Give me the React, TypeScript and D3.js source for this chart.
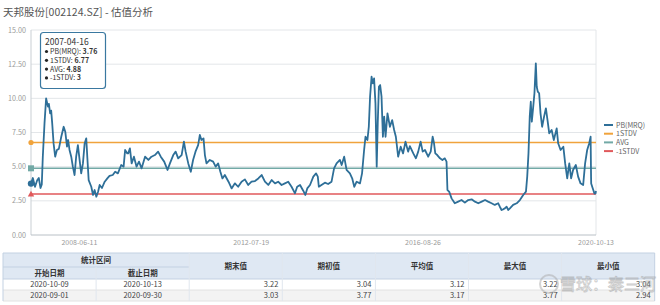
import React from "react";
import * as d3 from "d3";

const TITLE = "天邦股份[002124.SZ] - 估值分析";

const pbDates = [
  "2007-04-16","2007-05-02","2007-05-21","2007-06-09","2007-06-23","2007-07-08","2007-07-19","2007-07-28",
  "2007-08-12","2007-08-26","2007-09-11","2007-09-19","2007-09-30","2007-10-09","2007-10-18","2007-10-30",
  "2007-11-13","2007-11-28","2007-12-15","2008-01-05","2008-01-26","2008-02-09","2008-02-24","2008-03-05",
  "2008-03-17","2008-04-01","2008-04-15","2008-04-30","2008-05-14","2008-05-29","2008-06-13","2008-06-27",
  "2008-07-12","2008-07-27","2008-08-10","2008-08-19","2008-08-31","2008-09-23","2008-10-08","2008-10-22",
  "2008-11-06","2008-11-21","2008-12-05","2008-12-25","2009-01-18","2009-02-10","2009-03-01","2009-03-29",
  "2009-04-19","2009-05-13","2009-06-11","2009-07-02","2009-07-15","2009-08-03","2009-08-11","2009-08-26",
  "2009-09-10","2009-09-30","2009-10-23","2009-11-13","2009-12-06","2010-01-05","2010-02-03","2010-03-02",
  "2010-04-01","2010-04-29","2010-05-22","2010-06-21","2010-07-20","2010-08-10","2010-09-08","2010-09-29",
  "2010-10-21","2010-11-20","2010-12-10","2010-12-25","2011-01-17","2011-02-08","2011-02-28","2011-03-21",
  "2011-04-13","2011-04-28","2011-05-12","2011-05-30","2011-06-11","2011-06-25","2011-07-24","2011-08-22",
  "2011-09-13","2011-10-05","2011-10-24","2011-11-11","2011-12-02","2012-01-03","2012-01-30","2012-02-28",
  "2012-03-27","2012-04-26","2012-05-25","2012-06-23","2012-07-22","2012-08-21","2012-09-19","2012-10-18",
  "2012-11-16","2012-12-15","2013-01-14","2013-02-12","2013-03-11","2013-04-10","2013-05-09","2013-06-07",
  "2013-07-06","2013-08-05","2013-08-24","2013-09-18","2013-10-16","2013-11-03","2013-11-20","2013-12-14",
  "2014-01-12","2014-02-05","2014-02-20","2014-03-01","2014-03-24","2014-04-23","2014-05-21","2014-06-20",
  "2014-07-12","2014-08-03","2014-09-01","2014-09-16","2014-10-08","2014-10-29","2014-11-27","2014-12-17",
  "2015-01-04","2015-01-25","2015-02-23","2015-03-13","2015-03-31","2015-04-12","2015-04-29","2015-05-11",
  "2015-05-22","2015-06-04","2015-06-15","2015-06-26","2015-07-08","2015-07-19","2015-07-28","2015-08-07",
  "2015-08-18","2015-08-30","2015-09-11","2015-09-22","2015-10-04","2015-10-21","2015-11-11","2015-12-01",
  "2015-12-18","2016-01-02","2016-01-22","2016-02-13","2016-03-05","2016-03-26","2016-04-18","2016-05-03",
  "2016-06-02","2016-06-25","2016-07-15","2016-08-05","2016-08-23","2016-09-12","2016-10-10","2016-11-01",
  "2016-11-18","2016-11-30","2016-12-11","2016-12-28","2017-01-21","2017-02-11","2017-03-04","2017-03-19",
  "2017-03-27","2017-04-11","2017-05-02","2017-05-30","2017-06-29","2017-07-28","2017-08-26","2017-09-24",
  "2017-10-24","2017-11-22","2017-12-21","2018-01-20","2018-02-18","2018-03-17","2018-04-16","2018-05-14",
  "2018-06-13","2018-06-27","2018-07-12","2018-07-26","2018-08-10","2018-08-25","2018-09-09","2018-09-23",
  "2018-10-21","2018-11-21","2018-12-19","2019-01-17","2019-02-10","2019-02-21","2019-03-04","2019-03-15",
  "2019-03-24","2019-04-02","2019-04-13","2019-04-25","2019-05-07","2019-05-15","2019-05-24","2019-06-05",
  "2019-06-17","2019-07-01","2019-07-18","2019-08-03","2019-08-17","2019-09-01","2019-09-22","2019-10-11",
  "2019-11-05","2019-11-18","2019-12-09","2020-01-02","2020-01-18","2020-02-05","2020-02-23","2020-03-10",
  "2020-03-27","2020-04-20","2020-05-10","2020-05-31","2020-06-23","2020-07-10","2020-07-28","2020-08-15",
  "2020-08-27","2020-08-31","2020-09-01","2020-09-15","2020-09-30","2020-10-09","2020-10-13"
];

const pbValues = [
  3.76,4.17,3.53,4.0,4.17,3.44,3.7,5.73,
  8.2,10.0,9.39,9.6,8.9,9.1,8.17,6.7,
  5.73,6.22,6.3,7.19,7.92,7.56,6.46,6.95,
  6.22,5.73,5.0,4.39,5.73,6.58,5.49,4.51,
  5.24,6.7,7.07,5.73,4.02,3.53,2.93,3.29,
  2.8,3.16,3.66,3.44,3.9,4.14,4.32,4.39,
  4.63,4.51,5.12,5.0,6.22,5.97,5.97,6.34,
  5.24,5.73,5.0,5.37,4.88,5.73,5.49,5.73,
  5.85,6.1,5.73,5.37,4.76,5.24,5.85,6.1,
  5.61,5.85,6.83,6.1,5.24,4.63,5.49,6.1,
  6.58,7.32,6.95,7.07,5.85,5.24,5.49,5.37,
  5.0,5.24,4.63,4.14,4.39,3.9,3.41,3.78,
  3.53,3.9,4.07,3.66,3.9,3.95,4.14,4.39,
  3.9,3.66,4.02,3.78,3.9,3.66,3.78,3.9,
  3.53,3.05,3.53,3.66,3.24,2.93,3.41,3.66,
  4.27,4.51,4.27,3.53,3.66,3.83,3.73,3.9,
  4.88,5.24,5.49,5.12,5.73,4.76,4.51,4.15,
  3.53,3.9,3.78,4.51,6.22,7.19,6.95,7.92,
  10.12,11.58,11.1,11.46,9.63,5.0,8.17,10.85,
  10.97,10.12,7.19,8.66,7.19,8.9,7.92,8.41,
  7.68,7.19,5.73,6.46,5.97,6.83,6.1,6.5,
  5.97,5.61,6.1,6.83,6.1,6.22,5.73,6.1,
  7.19,6.71,5.97,5.85,5.61,5.49,5.61,5.37,
  3.29,3.17,2.68,2.32,2.44,2.56,2.37,2.56,
  2.61,2.44,2.32,2.44,2.56,2.44,2.32,2.2,
  2.32,2.07,1.83,1.88,1.95,2.07,1.83,1.95,
  2.2,2.32,2.56,2.93,3.17,4.27,5.97,8.66,
  9.75,8.29,9.27,10.37,12.56,10.85,10.49,10.37,
  8.9,7.92,8.66,9.27,8.41,7.44,7.68,6.95,
  7.8,6.71,6.22,6.46,5.24,4.14,5.24,4.14,
  4.76,5.12,4.27,3.78,3.66,5.24,6.22,6.71,
  7.19,4.2,3.77,3.4,3.03,3.04,3.22
];

const STDV_PLUS = 6.77;
const AVG = 4.88;
const STDV_MINUS = 3;

const yTicks = [0, 2.5, 5, 7.5, 10, 12.5, 15];
const xTickDates = ["2008-06-11", "2012-07-19", "2016-08-26", "2020-10-13"];

const legendNames = ["PB(MRQ)", "1STDV", "AVG", "-1STDV"];
const legendColors = ["#2e6f98", "#f0a33c", "#72a9a6", "#e0595b"];

const tooltipDate = "2007-04-16";
const tooltipLabels = ["PB(MRQ): ", "1STDV: ", "AVG: ", "-1STDV: "];
const tooltipValues = ["3.76", "6.77", "4.88", "3"];

const colHeaders = ["期末值", "期初值", "平均值", "最大值", "最小值"];
const rangeHeader = "统计区间";
const subHeaders = ["开始日期", "截止日期"];
const tStart = ["2020-10-09", "2020-09-01"];
const tEnd = ["2020-10-13", "2020-09-30"];
const tEndVal = ["3.22", "3.03"];
const tStartVal = ["3.04", "3.77"];
const tAvg = ["3.12", "3.17"];
const tMax = ["3.22", "3.77"];
const tMin = ["3.04", "2.94"];

const FONT = "'Noto Sans CJK SC', 'Noto Sans', sans-serif";

export default function App() {
  const parse = d3.timeParse("%Y-%m-%d");
  const data = pbDates.map((d, i) => ({ date: parse(d) as Date, v: pbValues[i] }));
  const left = 31, right = 596, top = 30, bottom = 235;
  const x = d3.scaleTime().domain([parse("2007-04-16") as Date, parse("2020-10-13") as Date]).range([left, right]);
  const y = d3.scaleLinear().domain([0, 15]).range([bottom, top]);
  const line = d3.line<{ date: Date; v: number }>().x(d => x(d.date)).y(d => y(d.v));

  const x0 = x.range()[0];
  const triSize = 3.2;

  const cols = d3.range(8).map(i => 3 + i * 93.1);
  const tTop = 253, h1 = 267, h2 = 279, r1 = 290, r2 = 301;
  const rowsY = [[h2, r1], [r1, r2]];
  const tableRows = [0, 1].map(i => [tStart[i], tEnd[i], tEndVal[i], tStartVal[i], tAvg[i], tMax[i], tMin[i]]);

  return (
    <svg width={660} height={305} style={{ position: "absolute", left: 0, top: 0, background: "#fff" }} fontFamily={FONT}>
      <rect x={0} y={0} width={660} height={305} fill="#fff" />
      <text x={3} y={16} fontSize={10.5} fill="#555">{TITLE}</text>

      {yTicks.map(t => (
        <g key={t}>
          {t > 0 && <line x1={left} x2={right} y1={y(t)} y2={y(t)} stroke="#e3e6e9" strokeWidth={1} />}
          <text x={26} y={y(t) + 2.5} fontSize={7.2} fill="#9a9a9a" textAnchor="end">{t.toFixed(2)}</text>
        </g>
      ))}
      <line x1={right} x2={right} y1={top} y2={bottom} stroke="#e3e6e9" />
      <line x1={left} x2={left} y1={top} y2={bottom} stroke="#c9cfd4" />
      <line x1={left} x2={right} y1={bottom} y2={bottom} stroke="#b9c0c6" />
      {xTickDates.map(d => (
        <text key={d} x={x(parse(d) as Date)} y={245} fontSize={7} fill="#9a9a9a" textAnchor="middle">{d}</text>
      ))}

      <line x1={left} x2={right} y1={y(STDV_PLUS)} y2={y(STDV_PLUS)} stroke={legendColors[1]} strokeWidth={1.6} />
      <line x1={left} x2={right} y1={y(AVG)} y2={y(AVG)} stroke={legendColors[2]} strokeWidth={1.6} />
      <line x1={left} x2={right} y1={y(STDV_MINUS)} y2={y(STDV_MINUS)} stroke={legendColors[3]} strokeWidth={1.6} />

      <path d={line(data) || ""} fill="none" stroke={legendColors[0]} strokeWidth={1.8} strokeLinejoin="round" />

      <circle cx={x0} cy={y(STDV_PLUS)} r={2.6} fill={legendColors[1]} />
      <rect x={x0 - 3} y={y(AVG) - 3} width={6} height={6} fill={legendColors[2]} />
      <path d={`M${x0},${y(STDV_MINUS) - triSize} L${x0 + triSize},${y(STDV_MINUS) + triSize * 0.8} L${x0 - triSize},${y(STDV_MINUS) + triSize * 0.8} Z`} fill={legendColors[3]} />
      <circle cx={x0} cy={y(pbValues[0])} r={3.2} fill={legendColors[0]} />

      <g>
        <rect x={40.5} y={32.5} width={65} height={56} rx={3} fill="#fff" fillOpacity={0.95} stroke="#3a78a0" strokeWidth={1.2} />
        <text x={45} y={45} fontSize={8.5} fill="#333">{tooltipDate}</text>
        {tooltipLabels.map((l, i) => (
          <g key={l}>
            <circle cx={46.5} cy={51.5 + i * 8.8} r={1.6} fill="#222" />
            <text x={50} y={54 + i * 8.8} fontSize={7} fill="#333">
              {l}<tspan fontWeight="bold">{tooltipValues[i]}</tspan>
            </text>
          </g>
        ))}
      </g>

      {legendNames.map((n, i) => (
        <g key={n}>
          <line x1={604} x2={613} y1={125 + i * 8.7} y2={125 + i * 8.7} stroke={legendColors[i]} strokeWidth={2} />
          <text x={616} y={127.5 + i * 8.7} fontSize={7} fill="#666">{n}</text>
        </g>
      ))}

      <g fontSize={7.5}>
        <rect x={cols[0]} y={tTop} width={cols[7] - cols[0]} height={h2 - tTop} fill="#dfe8f3" />
        <rect x={cols[0]} y={r1} width={cols[7] - cols[0]} height={r2 - r1} fill="#f3f3f3" />
        <line x1={cols[0]} x2={cols[7]} y1={tTop} y2={tTop} stroke="#c3d1e2" />
        <line x1={cols[0]} x2={cols[2]} y1={h1} y2={h1} stroke="#c3d1e2" />
        <line x1={cols[0]} x2={cols[7]} y1={h2} y2={h2} stroke="#c3d1e2" />
        <line x1={cols[0]} x2={cols[7]} y1={r1} y2={r1} stroke="#e2e2e2" />
        <line x1={cols[0]} x2={cols[7]} y1={r2} y2={r2} stroke="#e2e2e2" />
        {cols.map((c, i) => (
          <line key={i} x1={c} x2={c} y1={i === 1 ? h1 : tTop} y2={r2} stroke={i === 0 || i === 7 ? "#c3d1e2" : "#e0e6ee"} />
        ))}
        <text x={(cols[0] + cols[2]) / 2} y={263} textAnchor="middle" fill="#333" fontWeight="bold">{rangeHeader}</text>
        {subHeaders.map((s, i) => (
          <text key={s} x={(cols[i] + cols[i + 1]) / 2} y={276} textAnchor="middle" fill="#333" fontWeight="bold">{s}</text>
        ))}
        {colHeaders.map((s, i) => (
          <text key={s} x={(cols[i + 2] + cols[i + 3]) / 2} y={269} textAnchor="middle" fill="#333" fontWeight="bold">{s}</text>
        ))}
        {tableRows.map((row, ri) => (
          <g key={ri}>
            {row.map((v, ci) => (
              <text key={ci} x={ci < 2 ? (cols[ci] + cols[ci + 1]) / 2 : cols[ci + 1] - 4}
                y={rowsY[ri][0] + 8.3} textAnchor={ci < 2 ? "middle" : "end"} fill="#444">{v}</text>
            ))}
          </g>
        ))}
      </g>

      <g opacity={0.5}>
        <circle cx={549} cy={284} r={9} fill="none" stroke="#aaa" strokeWidth={2} />
        <text x={560} y={290} fontSize={16} fill="#fff" stroke="#999" strokeWidth={0.8}>雪球：秦三河</text>
      </g>
    </svg>
  );
}
